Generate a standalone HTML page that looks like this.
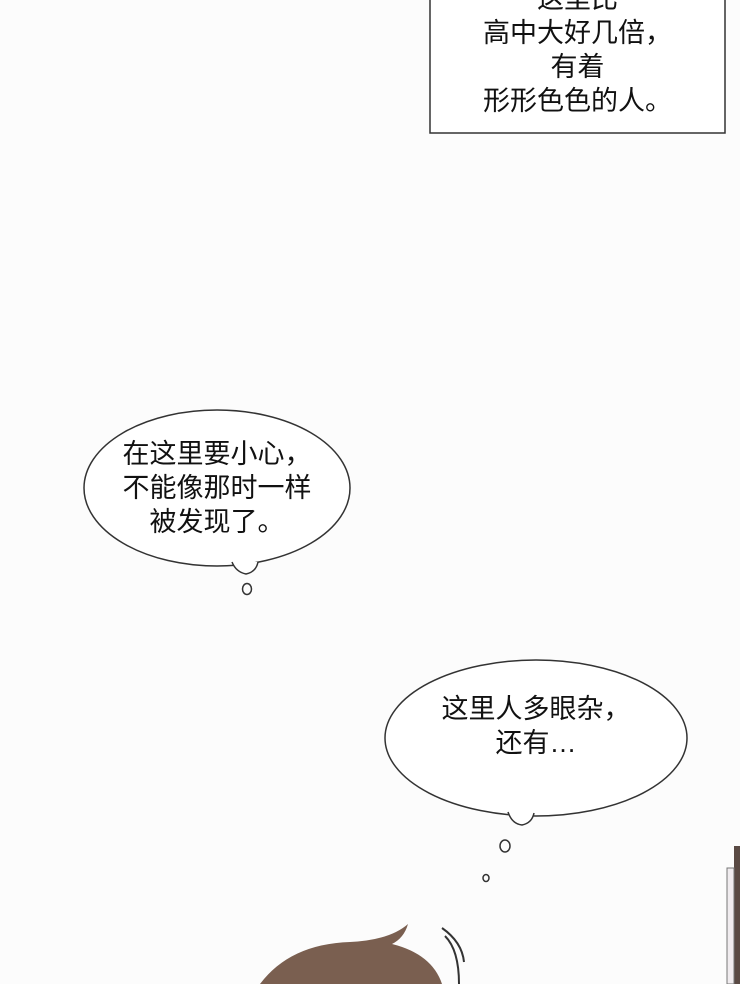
<!DOCTYPE html>
<html><head><meta charset="utf-8"><style>
html,body{margin:0;padding:0;background:#fff;}
body{width:740px;height:984px;overflow:hidden;position:relative;font-family:"Liberation Sans","Noto Sans CJK SC",sans-serif;}
.t{position:absolute;font-size:27px;color:#111;text-align:center;line-height:34px;white-space:nowrap;}
</style></head><body>
<svg width="740" height="984" style="position:absolute;left:0;top:0">
<rect x="0" y="0" width="740" height="984" fill="#fcfcfc"/>
<rect x="430" y="-5" width="295" height="138" fill="#fff" stroke="#333" stroke-width="1.5"/>
<ellipse cx="217" cy="488" rx="133" ry="78" fill="#fff" stroke="#333" stroke-width="1.5"/>
<path d="M232 562 q4 10 14 12 q10 -2 12 -12" fill="#fff" stroke="#333" stroke-width="1.5"/>
<ellipse cx="247" cy="589" rx="4.5" ry="5.5" fill="none" stroke="#333" stroke-width="1.5"/>
<ellipse cx="536" cy="738" rx="151" ry="78" fill="#fff" stroke="#333" stroke-width="1.5"/>
<path d="M508 812 q4 12 14 13 q10 -2 12 -12" fill="#fff" stroke="#333" stroke-width="1.5"/>
<ellipse cx="505" cy="846" rx="5" ry="6" fill="none" stroke="#333" stroke-width="1.5"/>
<ellipse cx="486" cy="878" rx="3" ry="3.5" fill="none" stroke="#333" stroke-width="1.5"/>
<path d="M260 984 q30 -40 90 -42 q40 -2 58 -18 q-4 14 -16 20 q40 10 50 40 z" fill="#7a5f50"/>
<path d="M442 928 q20 14 22 34" fill="none" stroke="#333" stroke-width="2"/>
<path d="M445 936 q14 14 14 48" fill="none" stroke="#333" stroke-width="2"/>
<rect x="734" y="846" width="6" height="138" fill="#5a4a44"/>
<rect x="727" y="868" width="7" height="116" fill="#f0ecef" stroke="#777" stroke-width="1"/>
</svg>
<div class="t" style="left:430px;width:295px;top:-18px;">这里比<br>高中大好几倍，<br>有着<br>形形色色的人。</div>
<div class="t" style="left:84px;width:266px;top:437px;">在这里要小心，<br>不能像那时一样<br>被发现了。</div>
<div class="t" style="left:385px;width:302px;top:692px;">这里人多眼杂，<br>还有…</div>
</body></html>
